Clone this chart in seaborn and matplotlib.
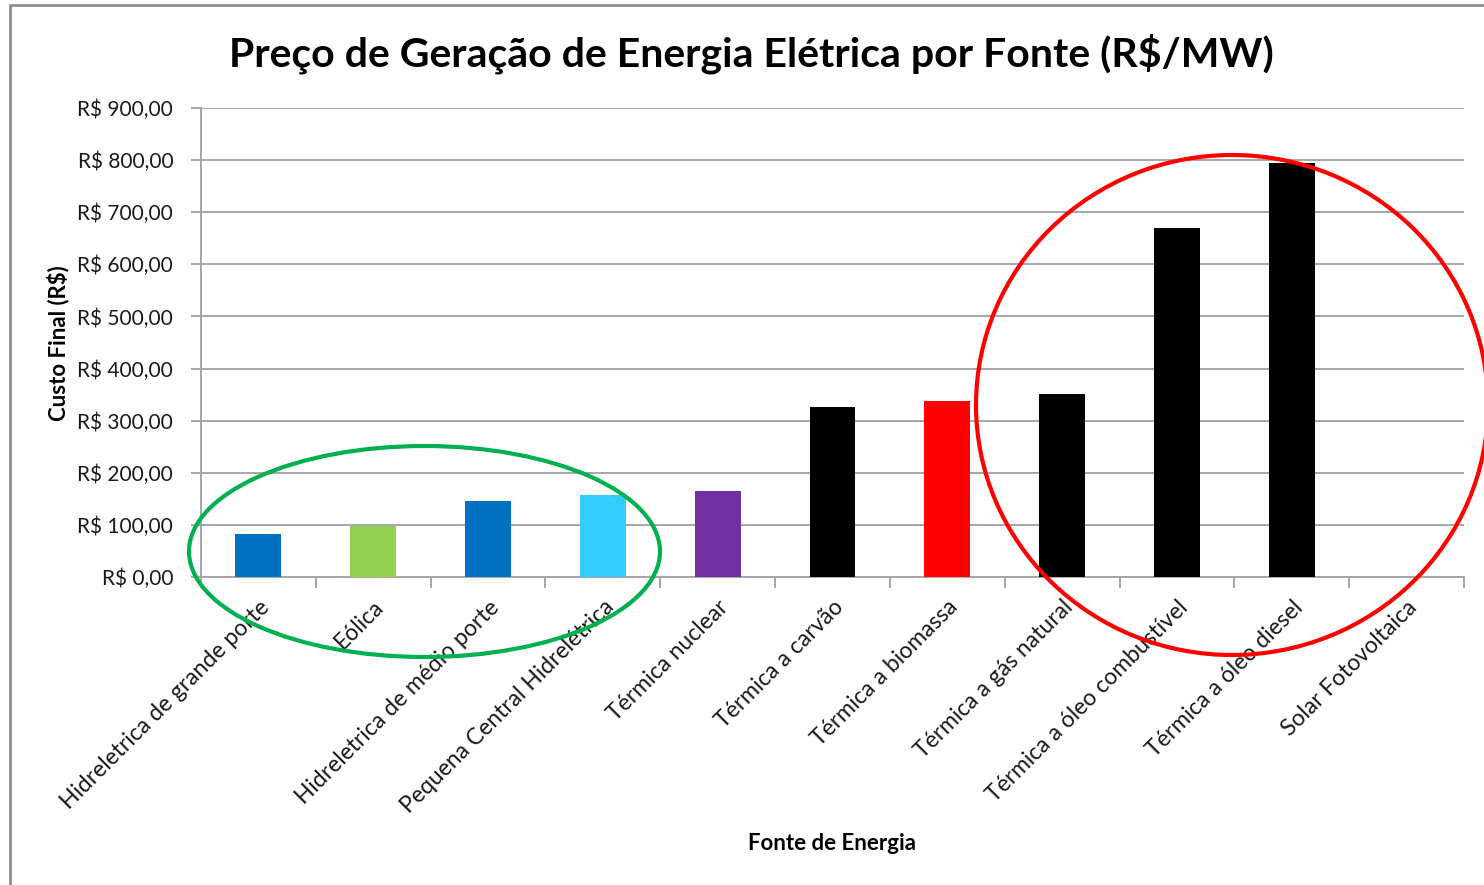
import matplotlib
matplotlib.use("Agg")
import matplotlib.pyplot as plt
import seaborn as sns
import pandas as pd
import numpy as np
from matplotlib.patches import Ellipse
from matplotlib.lines import Line2D
from matplotlib.ticker import FuncFormatter, FixedLocator

categories = [
    "Hidreletrica de grande porte",
    "Eólica",
    "Hidreletrica de médio porte",
    "Pequena Central Hidrelétrica",
    "Térmica nuclear",
    "Térmica a carvão",
    "Térmica a biomassa",
    "Térmica a gás natural",
    "Térmica a óleo combustível",
    "Térmica a óleo diesel",
    "Solar Fotovoltaica",
]
values = [83, 98, 146, 157, 165, 326, 338, 352, 670, 795, 0]
colors = ["#0070C0", "#92D050", "#0070C0", "#33CCFF", "#7030A0",
          "#000000", "#FF0000", "#000000", "#000000", "#000000", "#FFFFFF"]
yticks = [0, 100, 200, 300, 400, 500, 600, 700, 800, 900]

title = "Preço de Geração de Energia Elétrica por Fonte (R$/MW)"
xlabel = "Fonte de Energia"
ylabel = "Custo Final (R$)"

sns.set_theme(style="white")
plt.rcParams["font.family"] = ["Lato", "DejaVu Sans"]

W, H = 1484, 885
fig = plt.figure(figsize=(W / 100, H / 100), dpi=100)
ax = fig.add_axes([201 / W, 1 - 577 / H, (1464 - 201) / W, (577 - 108) / H])

df = pd.DataFrame({"cat": categories, "val": values})
sns.barplot(data=df, x="cat", y="val", hue="cat", palette=colors, width=0.4,
            legend=False, ax=ax, saturation=1, edgecolor="none", zorder=3)

ax.set_ylim(0, 900)
ax.set_xlim(-0.5, len(categories) - 0.5)
ax.set_yticks(yticks)
ax.yaxis.set_major_formatter(FuncFormatter(lambda v, p: f"R$ {v:,.2f}".replace(",", "X").replace(".", ",").replace("X", ".")))
ax.grid(axis="y", color="#A6A6A6", linewidth=1.4, zorder=0)
ax.grid(axis="x", visible=False)
for s in ["top", "right"]:
    ax.spines[s].set_visible(False)
for s in ["left", "bottom"]:
    ax.spines[s].set_color("#A6A6A6")
    ax.spines[s].set_linewidth(1.4)

ax.tick_params(axis="y", which="major", left=True, length=7, width=1.4, color="#A6A6A6",
               labelsize=15, labelcolor="#1a1a1a", pad=13)
ax.tick_params(axis="x", which="major", bottom=False, labelsize=16.5, labelcolor="#1a1a1a", pad=8)
ax.xaxis.set_minor_locator(FixedLocator(np.arange(-0.5, len(categories), 1.0)))
ax.tick_params(axis="x", which="minor", bottom=True, length=8, width=1.4, color="#A6A6A6")

ax.set_xticks(range(len(categories)))
ax.set_xticklabels(categories, rotation=45, ha="right", rotation_mode="anchor")
ax.set_xlabel("")
ax.set_ylabel("")

fig.text(751 / W, 1 - 54 / H, title, ha="center", va="center", fontsize=29.5, fontweight="bold", color="black")
fig.text(58 / W, 1 - 343 / H, ylabel, ha="center", va="center", rotation=90, fontsize=16, fontweight="bold", color="black")
fig.text(832 / W, 1 - 843 / H, xlabel, ha="center", va="center", fontsize=16, fontweight="bold", color="black")

# outer frame
fig.add_artist(Line2D([10 / W, 1], [1 - 5 / H, 1 - 5 / H], transform=fig.transFigure, color="#8C8C8C", lw=2))
fig.add_artist(Line2D([10 / W, 10 / W], [0, 1 - 5 / H], transform=fig.transFigure, color="#8C8C8C", lw=2))

# highlight ellipses
fig.add_artist(Ellipse((424.5 / W, 1 - 551.5 / H), 471 / W, 211 / H, transform=fig.transFigure,
                       fill=False, edgecolor="#00B050", lw=3, zorder=10))
fig.add_artist(Ellipse((1232 / W, 1 - 405 / H), 512 / W, 500 / H, transform=fig.transFigure,
                       fill=False, edgecolor="#FF0000", lw=3, zorder=10))

fig.savefig("out.png", dpi=100, facecolor="white")
